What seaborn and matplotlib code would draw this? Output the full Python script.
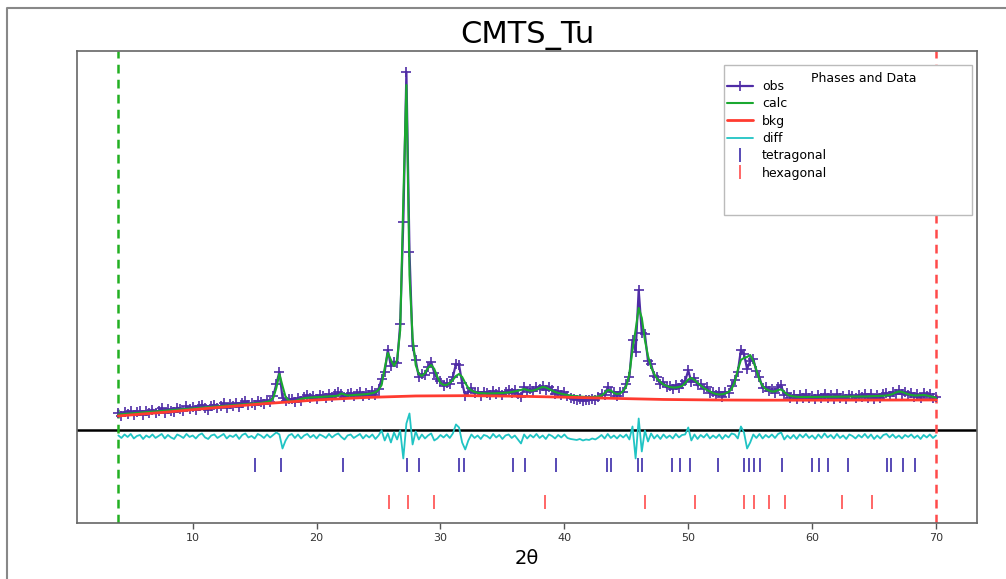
import numpy as np
import pandas as pd
import matplotlib.pyplot as plt
import seaborn as sns
from matplotlib.patches import Rectangle
from matplotlib.lines import Line2D

# 2theta grid, 0.25 deg steps from 4 to 70
two_theta = np.arange(4.0, 70.001, 0.25)

# calculated profile (one row per 4 degrees)
calc = [
    155, 158, 160, 163, 165, 168, 170, 173, 175, 178, 180, 183, 185, 188, 190, 193,
    195, 198, 200, 203, 205, 208, 210, 213, 215, 218, 220, 223, 225, 228, 230, 233,
    235, 238, 240, 243, 245, 248, 250, 253, 255, 258, 260, 263, 265, 268, 270, 275,
    280, 290, 320, 420, 560, 440, 330, 295, 285, 290, 300, 310, 318, 322, 325, 326,
    328, 330, 332, 334, 336, 338, 340, 345, 365, 355, 345, 347, 350, 352, 354, 356,
    358, 362, 368, 378, 400, 450, 620, 770, 700, 640, 700, 1000, 2300, 3450, 1550, 920,
    650, 560, 540, 570, 620, 650, 610, 530, 470, 450, 450, 470, 500, 540, 560, 530,
    470, 420, 395, 380, 372, 368, 366, 365, 365, 366, 367, 368, 370, 372, 375, 380,
    385, 392, 400, 410, 400, 392, 395, 405, 420, 430, 425, 410, 395, 380, 370, 362,
    355, 350, 345, 340, 337, 334, 332, 330, 330, 330, 332, 335, 345, 370, 400, 395,
    370, 360, 365, 390, 440, 560, 800, 1000, 1220, 1120, 900, 740, 630, 560, 510, 480,
    455, 440, 430, 425, 425, 430, 440, 470, 505, 520, 500, 470, 445, 420, 400, 385,
    370, 360, 355, 358, 365, 380, 410, 480, 600, 700, 720, 730, 750, 690, 600, 500,
    440, 410, 395, 385, 385, 400, 405, 380, 355, 340, 335, 332, 330, 330, 330, 330,
    330, 330, 331, 331, 332, 332, 332, 333, 333, 333, 334, 334, 334, 334, 335, 335,
    335, 335, 336, 336, 337, 338, 340, 342, 345, 350, 360, 375, 385, 380, 368, 358,
    350, 345, 345, 347, 350, 345, 338, 330, 322,
]

# obs - calc residual at the same points
resid = [
    10, -15, 20, -5, 25, -20, 5, 15, -25, 10, -10, 20, -15, 5, 25, -20,
    15, -10, -25, 20, 5, -15, 25, -5, 10, -20, 15, 30, -10, -25, 10, 20,
    -15, 5, 25, -20, 10, -5, 20, -25, 15, 30, -10, 5, -20, 25, 10, -15,
    20, -10, 15, 40, 20, -120, -40, 10, 25, -15, 20, -20, 10, 25, -10, 15,
    -20, 20, 5, -15, 25, -10, 15, 30, -5, -30, 10, 20, -15, 5, 25, -20,
    15, -10, 20, -25, 10, 60, -40, 30, -60, 40, -30, 60, -220, 130, 230, -80,
    50, -30, 20, -20, 10, 30, -40, -20, 15, -10, 20, -15, 30, 120, 90, -60,
    -130, -40, 20, -15, 10, -25, 15, 5, -20, 25, -10, 15, -25, 10, 20, -15,
    10, -30, -70, 20, -20, 15, -10, 25, -15, 10, -25, 20, 5, -20, 15, -10,
    20, -15, -25, -30, -35, -25, -40, -30, -35, -20, -30, -10, 15, -20, 25, -15,
    10, -20, 15, -10, 20, -30, 100, -220, 180, -150, 60, -50, 30, -20, 15, -25,
    20, -15, 10, -20, 25, -10, 15, 20, 90, -40, 20, -25, 15, -10, 25, -20,
    10, -15, 20, -25, 15, -10, 30, 20, -20, 100, 40, -120, -60, 20, -15, 25,
    -20, 15, -10, 20, -15, 25, 40, -30, 10, -20, 15, -25, 20, -10, 25, -15,
    10, -25, 20, -15, 30, -10, 15, -20, 25, -15, 10, -25, 20, 5, -20, 15,
    -10, 25, -15, 20, -25, 10, -20, 15, 25, -10, 20, -15, 10, -20, 15, -5,
    20, -15, 10, -25, 15, -10, 20, -15, 10,
]

bkg_x = [4, 8, 12, 16, 20, 24, 28, 32, 36, 40, 44, 48, 52, 56, 60, 64, 70]
bkg_y = [140, 180, 225, 265, 300, 325, 340, 343, 338, 328, 316, 305, 300, 298, 298, 299, 300]

tetragonal = [15.02, 17.16, 22.11, 27.29, 28.29, 31.50, 31.91, 35.87, 36.86, 39.29,
              43.41, 43.74, 45.93, 46.29, 48.72, 49.30, 50.13, 52.40, 54.50, 54.91,
              55.32, 55.78, 57.59, 60.02, 60.52, 61.26, 62.91, 66.08, 66.33, 67.32, 68.27]
hexagonal = [25.82, 27.34, 29.44, 38.47, 46.50, 50.54, 54.46, 55.28, 56.52, 57.80,
             62.41, 64.80]

calc = np.array(calc)
resid = np.array(resid)
df = pd.DataFrame({"tt": two_theta, "obs": calc + resid, "calc": calc,
                   "diff": resid - 65})

sns.set_theme(style="white")
plt.rcParams["font.family"] = ["DejaVu Sans"]
plt.rcParams["text.color"] = "black"
plt.rcParams["axes.labelcolor"] = "black"
plt.rcParams["xtick.color"] = "#333333"

obs_c = "#4f2ca6"

fig = plt.figure(figsize=(10.06, 5.79), dpi=100)
ax = fig.add_axes([0.0770, 0.0959, 0.8941, 0.8161])

sns.lineplot(data=df, x="tt", y="obs", color=obs_c, lw=1.6, marker="+",
             markersize=6.5, markeredgewidth=1.2, markeredgecolor=obs_c,
             errorbar=None, sort=False, label="obs", ax=ax, zorder=3)
sns.lineplot(data=df, x="tt", y="calc", color="#1aa830", lw=1.5, errorbar=None,
             sort=False, label="calc", ax=ax, zorder=4)
sns.lineplot(x=bkg_x, y=bkg_y, color="#ff3b30", lw=2.0, label="bkg", ax=ax, zorder=5)
sns.lineplot(data=df, x="tt", y="diff", color="#20c4c4", lw=1.3, errorbar=None,
             sort=False, label="diff", ax=ax, zorder=3)
ax.plot(tetragonal, [-355] * len(tetragonal), ls="none", marker="|", ms=9.5,
        mew=1.3, color="#4a3cb0", label="tetragonal")
ax.plot(hexagonal, [-725] * len(hexagonal), ls="none", marker="|", ms=9.5,
        mew=1.3, color="#ff5a5a", label="hexagonal")

ax.axhline(0, color="black", lw=1.8, zorder=2)
ax.axvline(4, color="#22b022", lw=1.8, ls=(0, (3.5, 2.5)), zorder=2)
ax.axvline(70, color="#ff4a4a", lw=1.8, ls=(0, (3.5, 2.5)), zorder=2)

ax.set_xlim(0.7, 73.3)
ax.set_ylim(-935, 3790)
ax.set_xticks([10, 20, 30, 40, 50, 60, 70])
ax.set_yticks([])
ax.tick_params(axis="x", labelsize=8, length=4, width=1, color="#555555",
               bottom=True, pad=3)
for s in ax.spines.values():
    s.set_color("#666666")
    s.set_linewidth(1.2)

ax.set_title("CMTS_Tu", fontsize=22, pad=6, color="black")
ax.set_xlabel("2θ", fontsize=14, labelpad=4)
ax.set_ylabel("")

# legend: frame and title drawn by hand so the title can sit to the right
ax.add_patch(Rectangle((0.719, 0.653), 0.275, 0.317, transform=ax.transAxes,
                       facecolor="white", edgecolor="#bbbbbb", lw=1, zorder=6))
handles, labels = ax.get_legend_handles_labels()
leg = ax.legend(handles, labels, loc="upper left", bbox_to_anchor=(0.722, 0.9386),
                frameon=False, fontsize=9, handlelength=2.1, handletextpad=0.7,
                labelspacing=0.35, borderpad=0, borderaxespad=0)
leg.set_zorder(7)
ax.text(0.874, 0.941, "Phases and Data", transform=ax.transAxes, ha="center",
        va="center", fontsize=9, zorder=8)

# outer frame of the picture (left and top edges only)
fig.lines.append(Line2D([7 / 1006, 7 / 1006, 1.0], [0.0, 1 - 8 / 579, 1 - 8 / 579],
                        transform=fig.transFigure, color="#888888", lw=1.5))

fig.savefig("out.png", dpi=100)
